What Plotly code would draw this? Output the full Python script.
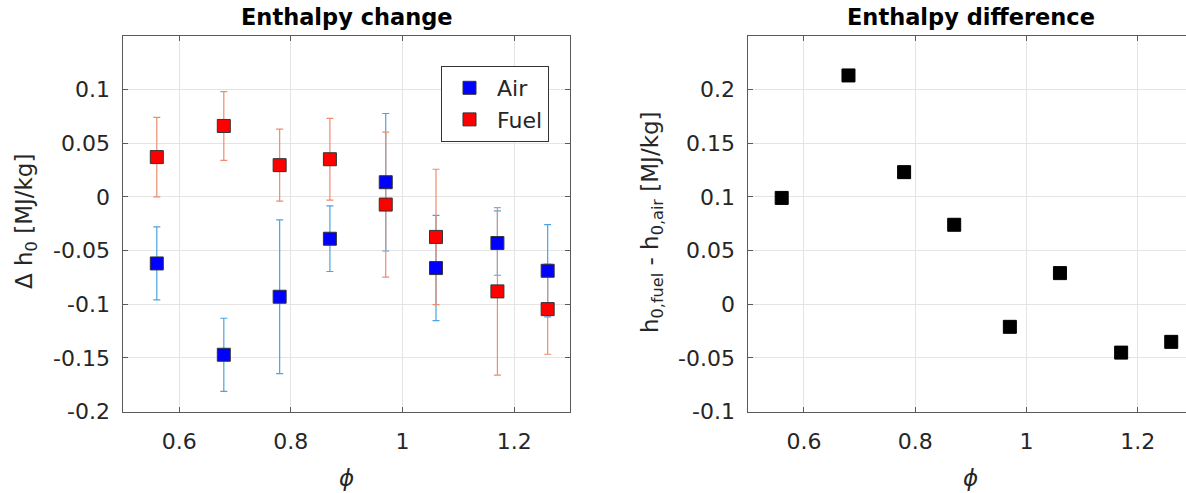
import plotly.graph_objects as go

# ---- data ----
phi = [0.56, 0.68, 0.78, 0.87, 0.97, 1.06, 1.17, 1.26]
dh_air = [-0.062, -0.147, -0.093, -0.039, 0.0136, -0.0663, -0.043, -0.0688]
err_air = [0.034, 0.034, 0.0715, 0.0305, 0.064, 0.049, 0.030, 0.043]
dh_fuel = [0.037, 0.066, 0.0295, 0.035, -0.0072, -0.0373, -0.088, -0.1045]
err_fuel = [0.037, 0.032, 0.0335, 0.038, 0.0675, 0.063, 0.078, 0.042]
dh_diff = [0.099, 0.213, 0.123, 0.074, -0.021, 0.029, -0.045, -0.035]

x_tick_vals = [0.6, 0.8, 1.0, 1.2]
x_tick_text = ["0.6", "0.8", "1", "1.2"]
y1_tick_vals = [-0.2, -0.15, -0.1, -0.05, 0, 0.05, 0.1]
y1_tick_text = ["-0.2", "-0.15", "-0.1", "-0.05", "0", "0.05", "0.1"]
y2_tick_vals = [-0.1, -0.05, 0, 0.05, 0.1, 0.15, 0.2]
y2_tick_text = ["-0.1", "-0.05", "0", "0.05", "0.1", "0.15", "0.2"]

# ---- layout constants ----
W, H = 1186, 493
FONT = "DejaVu Sans"
AX = "#5a5a5a"
TXT = "#262626"
GRID = "#e4e4e4"

def px(x):
    return x / W

def py(y):
    return 1 - y / H

# left plot area (pixels)
L1, R1, T, B = 123.3, 570.0, 35.7, 411.7
# right plot area (right edge clipped by the image border)
L2, R2_full = 748.3, 1193.5
x2_range_end = 0.5 + 0.8 * (W - L2) / (R2_full - L2)

fig = go.Figure()

# error bars (drawn under markers)
fig.add_trace(go.Scatter(
    x=phi, y=dh_air, mode="markers", showlegend=False, hoverinfo="skip",
    marker=dict(size=1, color="rgba(0,0,0,0)"),
    error_y=dict(type="data", array=err_air, color="#4aa3e3", thickness=1.2, width=3.5),
    xaxis="x", yaxis="y"))
fig.add_trace(go.Scatter(
    x=phi, y=dh_fuel, mode="markers", showlegend=False, hoverinfo="skip",
    marker=dict(size=1, color="rgba(0,0,0,0)"),
    error_y=dict(type="data", array=err_fuel, color="#ee8c70", thickness=1.2, width=3.5),
    xaxis="x", yaxis="y"))

# markers
fig.add_trace(go.Scatter(
    x=phi, y=dh_air, mode="markers", name="Air",
    marker=dict(symbol="square", size=13, color="#0000ff", line=dict(color="#333333", width=1)),
    xaxis="x", yaxis="y"))
fig.add_trace(go.Scatter(
    x=phi, y=dh_fuel, mode="markers", name="Fuel",
    marker=dict(symbol="square", size=13, color="#ff0000", line=dict(color="#333333", width=1)),
    xaxis="x", yaxis="y"))

fig.add_trace(go.Scatter(
    x=phi, y=dh_diff, mode="markers", showlegend=False,
    marker=dict(symbol="square", size=13, color="#000000", line=dict(color="#000000", width=1)),
    xaxis="x2", yaxis="y2"))

axis_common = dict(
    showline=True, linecolor=AX, linewidth=1,
    ticks="inside", ticklen=5, tickwidth=1, tickcolor=AX,
    showgrid=True, gridcolor=GRID, gridwidth=1,
    zeroline=False, automargin=False,
    tickfont=dict(family=FONT, size=22, color=TXT),
)

fig.update_layout(
    width=W, height=H, autosize=False,
    margin=dict(l=0, r=0, t=0, b=0),
    paper_bgcolor="white", plot_bgcolor="white",
    xaxis=dict(domain=[px(L1), px(R1)], range=[0.5, 1.3], anchor="y",
               tickvals=x_tick_vals, ticktext=x_tick_text, mirror="ticks",
               ticklabelstandoff=10, **axis_common),
    yaxis=dict(domain=[py(B), py(T)], range=[-0.2, 0.15], anchor="x",
               tickvals=y1_tick_vals, ticktext=y1_tick_text, mirror="ticks",
               ticklabelstandoff=8, **axis_common),
    xaxis2=dict(domain=[px(L2), 1.0], range=[0.5, x2_range_end], anchor="y2",
                tickvals=x_tick_vals, ticktext=x_tick_text, mirror="ticks",
                ticklabelstandoff=10, **axis_common),
    yaxis2=dict(domain=[py(B), py(T)], range=[-0.1, 0.25], anchor="x2",
                tickvals=y2_tick_vals, ticktext=y2_tick_text, mirror=False,
                ticklabelstandoff=8, **axis_common),
    legend=dict(x=px(441), y=py(66), xanchor="left", yanchor="top",
                bgcolor="white", bordercolor="#333333", borderwidth=1,
                font=dict(family=FONT, size=22, color=TXT),
                itemwidth=45, tracegroupgap=6),
    showlegend=True,
)

ann = [
    dict(x=px((L1 + R1) / 2), y=py(17.5), text="<b>Enthalpy change</b>",
         font=dict(family=FONT, size=22.5, color="black")),
    dict(x=px(970.9), y=py(17.5), text="<b>Enthalpy difference</b>",
         font=dict(family=FONT, size=22.5, color="black")),
    dict(x=px(26), y=py(222), text="Δ h<sub>0</sub> [MJ/kg]", textangle=-90,
         font=dict(family=FONT, size=23, color=TXT)),
    dict(x=px(652), y=py(222), text="h<sub>0,fuel</sub> - h<sub>0,air</sub> [MJ/kg]", textangle=-90,
         font=dict(family=FONT, size=23, color=TXT)),
    dict(x=px((L1 + R1) / 2), y=py(478), text="<i>ϕ</i>",
         font=dict(family=FONT, size=23, color=TXT)),
    dict(x=px(970.9), y=py(478), text="<i>ϕ</i>",
         font=dict(family=FONT, size=23, color=TXT)),
]
for a in ann:
    a.update(xref="paper", yref="paper", showarrow=False, xanchor="center", yanchor="middle")
fig.update_layout(annotations=ann)

fig.write_html("out.html")
